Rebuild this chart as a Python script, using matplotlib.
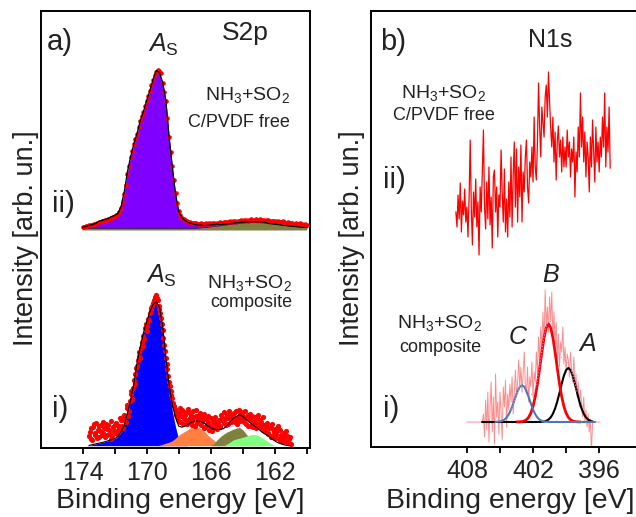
import numpy as np
import matplotlib.pyplot as plt

plt.rcParams['font.family'] = ['Liberation Sans', 'DejaVu Sans']
plt.rcParams['mathtext.fontset'] = 'custom'
plt.rcParams['mathtext.rm'] = 'Liberation Sans'
plt.rcParams['mathtext.it'] = 'Liberation Sans:italic'
plt.rcParams['mathtext.bf'] = 'Liberation Sans:bold'

TXT = '#222222'

# ---------------- S2p (panel a) ----------------
s2p_fit_be = np.round(np.arange(174.0, 159.99, -0.2), 1)    # 174.0 -> 160.0
s2p_ii_dot_be = np.round(np.arange(174.0, 159.99, -0.1), 1)  # 174.0 -> 160.0
s2p_i_dot_be = np.round(np.arange(173.6, 160.99, -0.1), 1)   # 173.6 -> 161.0
s2p_i_dot_be2 = np.round(np.arange(173.55, 161.0, -0.1), 2)  # 173.55 -> 161.05

# ii) C/PVDF free : fitted components
s2p_ii_main = [1, 2, 3, 4, 5, 7, 8, 9, 10, 12,
               13, 15, 22, 37, 57, 72, 85, 95, 108, 117,
               128, 138, 149, 158, 156, 146, 128, 92, 62, 35,
               17, 11, 8, 6, 5, 4, 3, 3, 2, 2,
               2, 2, 2, 1, 1, 1, 1, 1, 1, 1,
               1, 1, 1, 1, 1, 1, 1, 1, 0, 0,
               0, 0, 0, 0, 0, 0, 0, 0, 0, 0,
               0]
s2p_ii_minor = [1.5] * 36 + [1.8, 2.0, 2.3, 2.7, 3.0, 3.4, 3.8, 4.2, 4.6, 5.0,
                             5.4, 5.8, 6.2, 6.5, 6.8, 7.0, 7.2, 7.3, 7.3, 7.2,
                             7.0, 6.8, 6.5, 6.2, 5.8, 5.4, 5.0, 4.6, 4.2, 3.8,
                             3.5, 3.2, 2.9, 2.6, 2.4]
# ii) measured points
s2p_ii_data = [3, 3, 4, 4, 5, 5, 5, 6, 6, 7,
               8, 8, 9, 9, 10, 10, 11, 11, 12, 13,
               14, 15, 16, 18, 22, 28, 36, 45, 56, 64,
               73, 79, 86, 91, 96, 103, 109, 114, 118, 124,
               129, 134, 139, 145, 150, 155, 158, 160, 159, 157,
               147, 138, 129, 112, 93, 78, 64, 50, 37, 27,
               19, 15, 12, 11, 10, 9, 8, 8, 7, 7,
               7, 7, 6, 6, 7, 6, 6, 7, 6, 7,
               6, 7, 7, 6, 7, 7, 8, 7, 8, 8,
               8, 8, 9, 8, 9, 9, 8, 9, 9, 10,
               9, 10, 10, 9, 10, 11, 10, 10, 11, 10,
               10, 11, 10, 10, 9, 10, 10, 9, 9, 9,
               9, 8, 9, 8, 8, 9, 8, 7, 8, 7,
               7, 7, 6, 7, 6, 6, 7, 6, 5, 6,
               5]

# i) composite : fitted components
s2p_i_as = [0, 0, 0.3, 1, 1.8, 2.5, 3.2, 4, 5, 6,
            7, 9, 14, 20, 33, 46, 62, 83, 99, 113,
            124, 134, 141, 144, 138, 118, 86, 57, 35, 19,
            6, 2, 0.5] + [0] * 38
s2p_i_orange = [0] * 23 + [0, 0.5, 1.5, 2.5, 3.5, 5, 7.5, 10.5, 12.5, 14.5,
                           16.5, 18.5, 19.7, 18.5, 17, 14.5, 11, 8, 5.5, 3,
                           1.5, 0.5, 0] + [0] * 25
s2p_i_olive = [0] * 40 + [0, 2, 6, 9, 11.5, 13.5, 15, 16.5, 17.5, 18.3,
                          16, 12, 8, 5, 3, 1.5, 0.5, 0] + [0] * 13
s2p_i_green = [0] * 44 + [0, 1.5, 3.5, 5.7, 6.8, 7.5, 8.5, 9.5, 10.5, 11.3,
                          11, 10, 8, 6, 4, 1.5, 0.3, 0] + [0] * 9
s2p_i_bg = [0] * 27 + [0.5, 1, 2, 3, 4, 4.5, 5, 5, 5, 6,
                       7, 8, 9, 10, 9, 7, 6, 5, 5, 5,
                       5, 5, 5, 5, 5, 5, 5, 5, 5, 5,
                       5.5, 6, 5.5, 4.5, 3, 1.8, 0.8, 0.2, 0] + [0] * 5
# i) measured points (two interleaved scans)
s2p_i_data = [10, 18, 6, 22, 13, 8, 20, 15, 11, 24,
              9, 17, 21, 12, 7, 19, 14, 23, 16, 20,
              26, 18, 31, 24, 41, 35, 52, 47, 66, 72,
              80, 94, 88, 104, 110, 118, 115, 127, 133, 138,
              143, 149, 151, 146, 140, 128, 116, 101, 88, 77,
              64, 55, 48, 40, 35, 29, 33, 24, 36, 27,
              31, 22, 34, 28, 25, 35, 20, 30, 26, 33,
              21, 29, 18, 27, 24, 16, 28, 19, 25, 22,
              17, 26, 20, 29, 23, 27, 31, 22, 33, 26,
              30, 24, 35, 28, 32, 26, 34, 29, 22, 31,
              27, 20, 30, 24, 18, 28, 22, 26, 17, 21,
              15, 23, 12, 19, 10, 17, 8, 14, 20, 6,
              11, 4, 9, 15, 3, 7, 2]
s2p_i_data2 = [14, 7, 19, 11, 23, 16, 9, 21, 13, 18,
               22, 11, 16, 25, 10, 15, 21, 12, 18, 28,
               20, 29, 25, 38, 30, 45, 55, 58, 62, 78,
               86, 90, 98, 100, 107, 122, 120, 125, 136, 140,
               146, 144, 148, 137, 133, 122, 108, 95, 82, 70,
               60, 51, 43, 37, 31, 26, 38, 30, 22, 34,
               26, 37, 24, 31, 21, 29, 36, 23, 31, 27,
               25, 32, 19, 22, 30, 20, 15, 24, 29, 18,
               24, 19, 31, 25, 34, 21, 28, 35, 24, 29,
               33, 27, 22, 36, 25, 30, 24, 35, 28, 20,
               32, 25, 19, 29, 23, 31, 20, 24, 29, 16,
               20, 13, 18, 9, 22, 14, 11, 18, 7, 16,
               8, 13, 5, 10, 3, 9]

# ---------------- N1s (panel b) ----------------
n1s_ii_be = np.round(np.arange(409.0, 394.99, -0.1), 1)
n1s_i_be = np.round(np.arange(408.0, 395.99, -0.1), 1)
n1s_fit_be = np.round(np.arange(407.0, 395.99, -0.2), 1)

n1s_ii_data = [55, 40, 72, 48, 84, 35, 66, 52, 78, 45,
               60, 30, 70, 127, 58, 22, 75, 50, 88, 40,
               65, 12, 80, 55, 95, 137, 60, 38, 85, 48,
               100, 42, 70, 19, 90, 97, 55, 80, 30, 72,
               60, 117, 75, 45, 98, 35, 68, 30, 85, 50,
               110, 40, 92, 125, 60, 118, 45, 100, 70, 122,
               45, 95, 75, 110, 127, 80, 64, 105, 90, 120,
               85, 150, 100, 87, 125, 184, 140, 110, 160, 144,
               130, 170, 182, 150, 195, 165, 139, 120, 150, 105,
               135, 87, 125, 141, 110, 127, 95, 130, 100, 120,
               100, 137, 110, 125, 90, 118, 105, 130, 70, 115,
               95, 140, 110, 174, 120, 150, 105, 135, 90, 125,
               110, 75, 130, 100, 147, 115, 85, 140, 105, 125,
               95, 130, 110, 150, 120, 174, 100, 140, 115, 160,
               99]

n1s_i_data = [0, 0, 0, 0, 0, 0, 0, 0, 0, 0,
              0, 0, 0, 0, 0, 8, -15, 22, -8, 30,
              -20, 15, 40, -10, 25, -22, 48, 5, 20, -12,
              30, 10, -18, 35, 15, 42, -5, 28, 12, 38,
              20, 45, 8, 30, 52, 25, 40, 62, 35, 55,
              30, 48, 70, 38, 28, 55, 20, 45, 35, 60,
              25, 50, 40, 70, 48, 85, 62, 95, 75, 110,
              80, 132, 95, 115, 90, 125, 100, 130, 85, 110,
              78, 100, 60, 88, 55, 80, 70, 95, 58, 75,
              50, 68, 62, 45, 70, 52, 40, 65, 35, 48,
              25, 40, 15, 32, 20, 5, 25, 0, 12, -5,
              8, -10, 3, -30, 0, 0, 0, 0, 0, 0,
              0]

n1s_c = [0] * 8 + [0.1, 0.2, 0.5, 1.1, 2.3, 4.4, 7.7, 12.4, 18.4, 24.9,
                   30.9, 35.2, 36.7, 35.2, 30.9, 24.9, 18.4, 12.4, 7.7, 4.4,
                   2.3, 1.1, 0.5, 0.2, 0.1] + [0] * 23
n1s_b = [0] * 18 + [0.1, 0.2, 0.4, 1.0, 2.3, 4.7, 8.9, 15.6, 25.4, 38.3,
                    53.8, 69.9, 84.4, 94.4, 98, 94.4, 84.4, 69.9, 53.8, 38.3,
                    25.4, 15.6, 8.9, 4.7, 2.3, 1.0, 0.4, 0.2, 0.1] + [0] * 9
n1s_a = [0] * 28 + [0.1, 0.2, 0.5, 1.2, 2.4, 4.6, 8.2, 13.5, 20.6, 29.2,
                    38.2, 46.3, 52, 54, 52, 46.3, 38.2, 29.2, 20.6, 13.5,
                    8.2, 4.6, 2.4, 1.2, 0.5, 0.2, 0.1] + [0]

# ---------------- figure ----------------
W, H = 636, 517
fig = plt.figure(figsize=(W / 100, H / 100), dpi=100)


def px(x, y):
    return x / W, 1 - y / H


ax_a = fig.add_axes([41 / W, 1 - 448 / H, 269 / W, 437 / H])
ax_b = fig.add_axes([371 / W, 1 - 447 / H, 265 / W, 436 / H])  # runs to the canvas edge

for ax in (ax_a, ax_b):
    for sp in ax.spines.values():
        sp.set_linewidth(1.4)
    ax.set_yticks([])
    ax.tick_params(axis='x', which='both', direction='out', length=4,
                   width=1.3, labelsize=18, pad=5, labelcolor=TXT)
ax_b.spines['right'].set_visible(False)

# panel a
off_ii, off_i = 218, 2.3
main_ii = np.array(s2p_ii_main)
minor_ii = np.array(s2p_ii_minor)
ax_a.fill_between(s2p_fit_be, off_ii, off_ii + minor_ii, color='#808040', lw=0)
ax_a.fill_between(s2p_fit_be, off_ii + minor_ii, off_ii + minor_ii + main_ii,
                  color='#8000ff', lw=0)
ax_a.plot(s2p_fit_be, off_ii + minor_ii, color='#333333', lw=0.6)
ax_a.scatter(s2p_ii_dot_be, off_ii + np.array(s2p_ii_data), s=11, color='red',
             lw=0, zorder=3)
ax_a.plot(s2p_fit_be, off_ii + minor_ii + main_ii, color='black', lw=0.9, zorder=4)

comps = [(s2p_i_as, '#0000ff'), (s2p_i_orange, '#ff8040'),
         (s2p_i_olive, '#808040'), (s2p_i_green, '#80ff80')]
for vals, col in comps:
    ax_a.fill_between(s2p_fit_be, off_i, off_i + np.array(vals), color=col, lw=0)
env_i = (np.array(s2p_i_as) + np.array(s2p_i_orange) + np.array(s2p_i_olive)
         + np.array(s2p_i_green) + np.array(s2p_i_bg))
ax_a.scatter(s2p_i_dot_be, off_i + np.array(s2p_i_data), s=14, color='red',
             lw=0, zorder=3)
ax_a.scatter(s2p_i_dot_be2, off_i + np.array(s2p_i_data2), s=14, color='red',
             lw=0, zorder=3)
sel = (s2p_fit_be <= 173.6) & (s2p_fit_be >= 161.0)
ax_a.plot(s2p_fit_be[sel], off_i + env_i[sel], color='black', lw=0.8, zorder=4)

ax_a.set_xlim(176.6, 159.8)
ax_a.set_ylim(0, 437)
ax_a.set_xticks([174, 170, 166, 162])
ax_a.set_xticks([172, 168, 164, 160], minor=True)

# panel b
off_b_ii, off_b_i = 180, 25
ax_b.plot(n1s_ii_be, off_b_ii + np.array(n1s_ii_data), color='red', lw=0.9)
ax_b.plot(n1s_i_be, off_b_i + np.array(n1s_i_data), color='red', lw=0.7, alpha=0.45)
c = np.array(n1s_c)
b = np.array(n1s_b)
a = np.array(n1s_a)
s_blk = (n1s_fit_be <= 406.6) & (n1s_fit_be >= 396.6)
s_red = (n1s_fit_be <= 403.4) & (n1s_fit_be >= 397.8)
s_blu = (n1s_fit_be <= 405.4) & (n1s_fit_be >= 396.4)
s_sum = (n1s_fit_be <= 404.0) & (n1s_fit_be >= 398.0)
ax_b.plot(n1s_fit_be[s_blk], off_b_i + a[s_blk], color='black', lw=1.5)
ax_b.plot(n1s_fit_be[s_red], off_b_i + b[s_red], color='red', lw=2)
ax_b.plot(n1s_fit_be[s_blu], off_b_i + c[s_blu], color='#4a7ab5', lw=1.5)
ax_b.plot(n1s_fit_be[s_sum], off_b_i + (a + b + c)[s_sum], color='violet',
          lw=0.8, ls=':')

ax_b.set_xlim(416.7, 392.66)
ax_b.set_ylim(0, 436)
ax_b.set_xticks([408, 402, 396])
ax_b.set_xticks([405, 399], minor=True)

# ---------------- texts ----------------
def put(x, y, s, size, ha='left', **kw):
    fig.text(*px(x, y), s, fontsize=size, ha=ha, va='baseline', color=TXT, **kw)


nh = r'NH$_3$+SO$_2$'
aS = r'$\mathit{A}_\mathrm{S}$'

put(47, 50, 'a)', 21)
put(222, 40, 'S2p', 19)
put(148, 52, aS, 18)
put(290, 100, nh, 14, ha='right')
put(290, 127, 'C/PVDF free', 13, ha='right')
put(75, 212, 'ii)', 21, ha='right')
put(146, 283, aS, 18)
put(292, 288, nh, 14, ha='right')
put(292, 307, 'composite', 13, ha='right')
put(68, 417, 'i)', 21, ha='right')

put(380, 50, 'b)', 21)
put(528, 47, 'N1s', 18)
put(444, 98, nh, 14, ha='center')
put(444, 120, 'C/PVDF free', 13, ha='center')
put(406, 188, 'ii)', 21, ha='right')
put(440, 328, nh, 14, ha='center')
put(440, 352, 'composite', 13, ha='center')
put(508, 344, '$\\mathit{C}$', 18)
put(542, 282, '$\\mathit{B}$', 18)
put(578, 351, '$\\mathit{A}$', 18)
put(399, 417, 'i)', 21, ha='right')

for xc in (26, 352):
    fig.text(*px(xc, 238), 'Intensity [arb. un.]', fontsize=19.5, rotation=90,
             ha='center', va='center', color=TXT)
put(180, 508, 'Binding energy [eV]', 20.5, ha='center')
put(510, 508, 'Binding energy [eV]', 20.5, ha='center')

fig.savefig('out.png', dpi=100)
